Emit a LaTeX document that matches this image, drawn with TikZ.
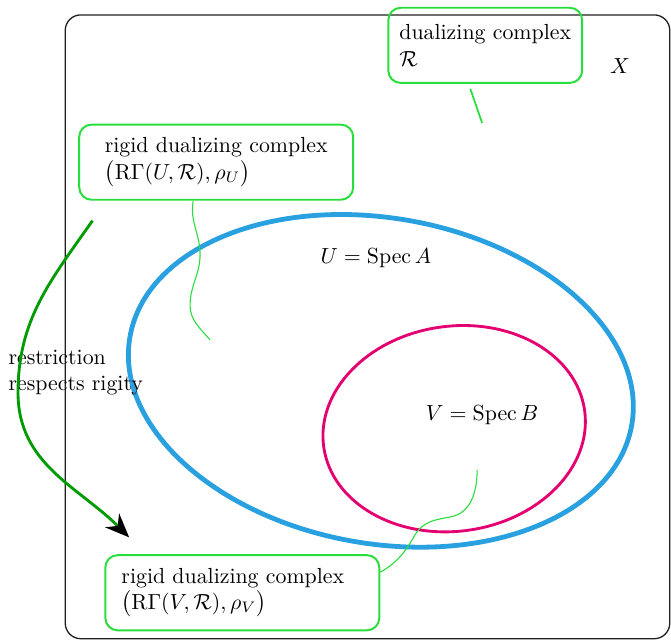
\documentclass[tikz,border=0pt]{standalone}
\usepackage{amsmath}
\usetikzlibrary{arrows.meta}
\definecolor{boxgreen}{RGB}{40,222,60}
\definecolor{arrowgreen}{RGB}{0,155,0}
\definecolor{openblue}{RGB}{41,160,224}
\definecolor{openpink}{RGB}{228,0,112}
\definecolor{spacegray}{RGB}{35,31,32}
\begin{document}
\begin{tikzpicture}[
        complexbox/.style={draw=boxgreen, line width=0.9pt, rounded corners=0.2cm, align=left, minimum height=1.21cm},
        tether/.style={boxgreen, line width=0.5pt}]
                    \useasboundingbox (0,0) rectangle (10.80,10.30);
                    \draw[spacegray, line width=0.6pt, rounded corners=0.25cm] (1.05,0.02) rectangle (10.78,10.06);
                    \node (X) at (9.98,9.23) {$X$};
                    \draw[openblue, line width=2.2pt, rotate around={-10:(6.13,4.17)}] (6.13,4.17) ellipse [x radius=4.10, y radius=2.62];
                    \draw[openpink, line width=1.3pt, rotate around={8:(7.31,3.40)}] (7.31,3.40) ellipse [x radius=2.12, y radius=1.65];
                    \node (U) at (6.05,6.15) {$U = \operatorname{Spec} A$};
                    \node (V) at (7.76,3.61) {$V = \operatorname{Spec} B$};
                    \node[complexbox, minimum width=3.12cm] (rbox) at (7.81,9.57) {dualizing complex\\$\mathcal{R}$};
                    \node[complexbox, minimum width=4.41cm] (ubox) at (3.48,7.69) {rigid dualizing complex\\$\bigl(\mathrm{R}\Gamma(U,\mathcal{R}),\rho_U\bigr)$};
                    \node[complexbox, inner xsep=0.26cm, text width=3.89cm] (vbox) at (3.90,0.76) {rigid dualizing complex\\$\bigl(\mathrm{R}\Gamma(V,\mathcal{R}),\rho_V\bigr)$};
                    \node[anchor=west, align=left, inner sep=0pt] (rule) at (0.13,4.30) {restriction\\respects rigity};
                    \coordinate (rend) at (7.76,8.32);
                    \coordinate (uend) at (3.38,4.83);
                    \coordinate (vend) at (7.68,2.74);
                    \draw[boxgreen, line width=0.8pt] ([xshift=-0.24cm,yshift=-0.08cm]rbox.south) -- (rend);
                    \draw[tether] ([xshift=-0.37cm]ubox.south) to[out=-100,in=90] (3.22,6.20) to[out=-90,in=90] (3.06,5.39) to[out=-90,in=130] (uend);
                    \draw[tether] ([yshift=0.33cm]vbox.east) to[out=30,in=-120] (6.68,1.69) to[out=60,in=190] (7.25,1.98) to[out=10,in=-90] (vend);
                    \draw[arrowgreen, line width=1.3pt, -{Stealth[length=11pt,width=9pt,black]}] ([xshift=0.23cm,yshift=-0.32cm]ubox.south west) to[out=-125,in=90] (0.29,3.98) to[out=-90,in=135] ([xshift=0.40cm,yshift=0.27cm]vbox.north west);
                \end{tikzpicture}
\end{document}
